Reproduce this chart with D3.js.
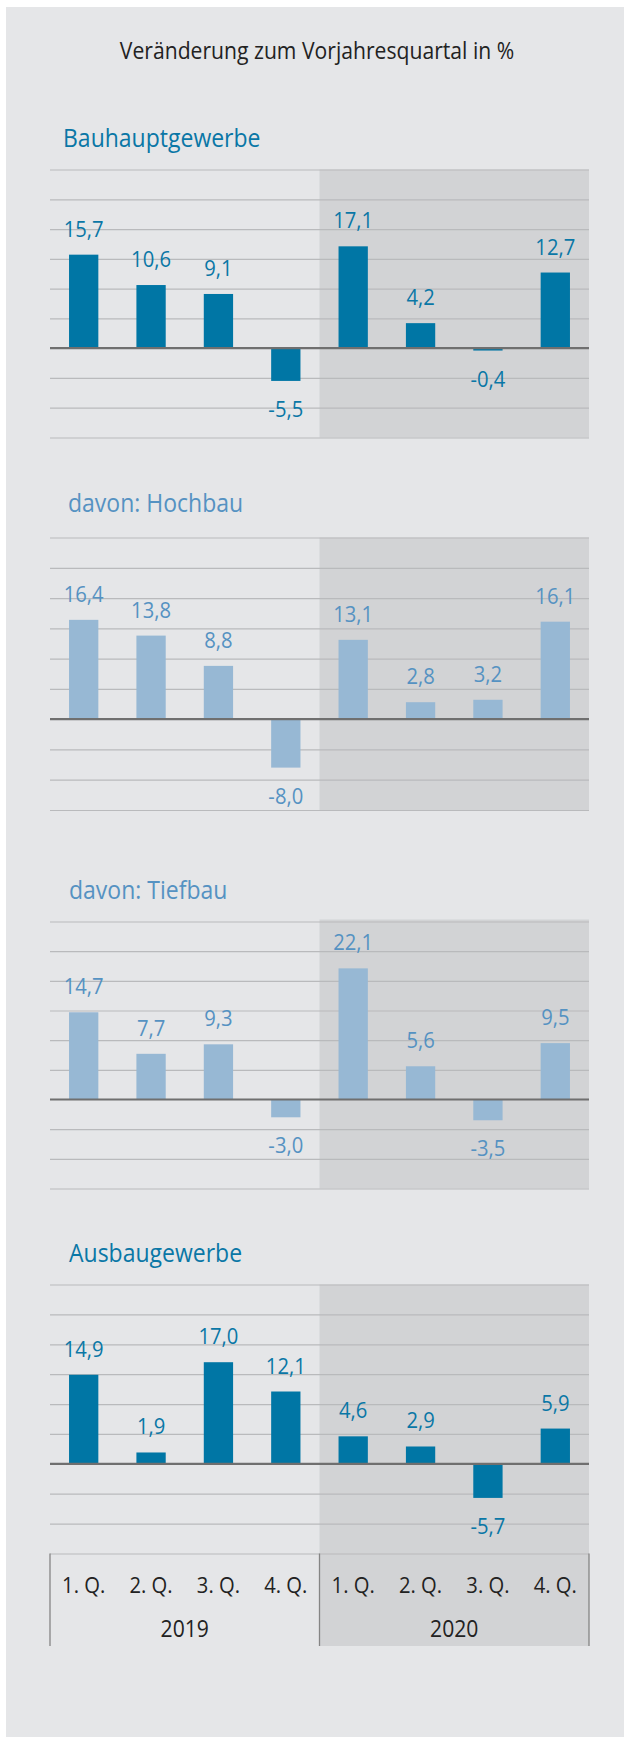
<!DOCTYPE html>
<html>
<head>
<meta charset="utf-8">
<script src="https://cdn.jsdelivr.net/npm/d3@7"></script>
<style>
  html, body { margin: 0; padding: 0; background: #ffffff; }
  svg { display: block; }
</style>
</head>
<body>
<div id="chart"></div>
<script>
// ---------- data ----------
const quarters = ["1. Q.", "2. Q.", "3. Q.", "4. Q.", "1. Q.", "2. Q.", "3. Q.", "4. Q."];
const years = ["2019", "2020"];
const yTicks = [-15, -10, -5, 0, 5, 10, 15, 20, 25, 30];
const titleText = "Veränderung zum Vorjahresquartal in %";
const panelTitles = ["Bauhauptgewerbe", "davon: Hochbau", "davon: Tiefbau", "Ausbaugewerbe"];
const bauhauptgewerbe = [15.7, 10.6, 9.1, -5.5, 17.1, 4.2, -0.4, 12.7];
const hochbau = [16.4, 13.8, 8.8, -8.0, 13.1, 2.8, 3.2, 16.1];
const tiefbau = [14.7, 7.7, 9.3, -3.0, 22.1, 5.6, -3.5, 9.5];
const ausbaugewerbe = [14.9, 1.9, 17.0, 12.1, 4.6, 2.9, -5.7, 5.9];

// ---------- styling / layout ----------
const W = 624, H = 1737;
const FONT = "'Open Sans', 'Noto Sans', sans-serif";
const SX = 0.92; // horizontal condensing of text
const DARK = "#0076a5", LIGHT = "#97b8d4";
const DARK_TXT = "#0a77a6", LIGHT_TXT = "#5592c2";
const X0 = 50, X1 = 589;

const panels = [
  { title: panelTitles[0], values: bauhauptgewerbe, top: 169.5, bottom: 437.5, titleX: 63, titleY: 147, bar: DARK, txt: DARK_TXT },
  { title: panelTitles[1], values: hochbau, top: 537.5, bottom: 810, titleX: 68, titleY: 512, bar: LIGHT, txt: LIGHT_TXT },
  { title: panelTitles[2], values: tiefbau, top: 921.5, bottom: 1188.5, titleX: 69, titleY: 899, bar: LIGHT, txt: LIGHT_TXT },
  { title: panelTitles[3], values: ausbaugewerbe, top: 1284.5, bottom: 1553.5, titleX: 69, titleY: 1262, bar: DARK, txt: DARK_TXT }
];

const locale = d3.formatLocale({ decimal: ",", thousands: ".", grouping: [3], currency: ["", "€"], minus: "-" });
const fmt = locale.format(".1f");

const svg = d3.select("#chart").append("svg").attr("width", W).attr("height", H);

// page background
svg.append("rect").attr("x", 6).attr("y", 7).attr("width", W - 6).attr("height", H - 7).attr("fill", "#e5e6e8");

function txt(g, x, y, s, opts) {
  return g.append("text")
    .attr("transform", `translate(${x},${y}) scale(${SX},1)`)
    .attr("text-anchor", opts.anchor || "start")
    .attr("font-family", FONT)
    .attr("font-size", opts.size)
    .attr("fill", opts.fill)
    .text(s);
}

txt(svg, 317, 59, titleText, { anchor: "middle", size: 23, fill: "#222222" });

const x = d3.scaleBand().domain(d3.range(quarters.length)).range([X0, X1]).paddingInner(0.565).paddingOuter(0.2825);
const xHalf = d3.scaleBand().domain(years).range([X0, X1]);

panels.forEach((p, i) => {
  const g = svg.append("g");
  const y = d3.scaleLinear().domain([-15, 30]).range([p.bottom, p.top]);
  const shadeBottom = i === 3 ? 1646 : p.bottom;
  const shadeTop = i === 2 ? p.top - 2 : p.top;

  // 2020 shading
  g.append("rect")
    .attr("x", xHalf("2020")).attr("y", shadeTop)
    .attr("width", xHalf.bandwidth()).attr("height", shadeBottom - shadeTop)
    .attr("fill", "#d2d3d5");

  // gridlines via axis
  const grid = g.append("g")
    .attr("transform", `translate(${X0},0)`)
    .call(d3.axisLeft(y).tickValues(yTicks.filter(t => t !== 0)).tickSize(-(X1 - X0)).tickFormat(""));
  grid.select(".domain").remove();
  grid.selectAll(".tick line").attr("stroke", "#b9babc").attr("stroke-width", 1.2);

  // title
  txt(g, p.titleX, p.titleY, p.title, { size: 25, fill: p.txt });

  // bars
  g.selectAll("rect.bar").data(p.values).join("rect")
    .attr("class", "bar")
    .attr("x", (d, j) => x(j))
    .attr("width", x.bandwidth())
    .attr("y", d => Math.min(y(d), y(0)))
    .attr("height", d => Math.abs(y(d) - y(0)))
    .attr("fill", p.bar);

  // zero line
  g.append("line").attr("x1", X0).attr("x2", X1).attr("y1", y(0)).attr("y2", y(0))
    .attr("stroke", "#6f6f6f").attr("stroke-width", 2.2);

  // value labels
  p.values.forEach((d, j) => {
    const cx = x(j) + x.bandwidth() / 2;
    const ly = d >= 0 ? y(d) - 18 : y(d) + 36;
    txt(g, cx, ly, fmt(d), { anchor: "middle", size: 22, fill: p.txt });
  });
});

// category axis box
const ax = svg.append("g");
[X0, xHalf("2020"), X1].forEach(xx => {
  ax.append("line").attr("x1", xx).attr("x2", xx).attr("y1", 1553.5).attr("y2", 1646)
    .attr("stroke", "#858585").attr("stroke-width", 1.3);
});
quarters.forEach((q, j) => {
  txt(ax, x(j) + x.bandwidth() / 2, 1593, q, { anchor: "middle", size: 22, fill: "#222222" });
});
years.forEach(yr => {
  txt(ax, xHalf(yr) + xHalf.bandwidth() / 2, 1637, yr, { anchor: "middle", size: 23, fill: "#222222" });
});
</script>
</body>
</html>
